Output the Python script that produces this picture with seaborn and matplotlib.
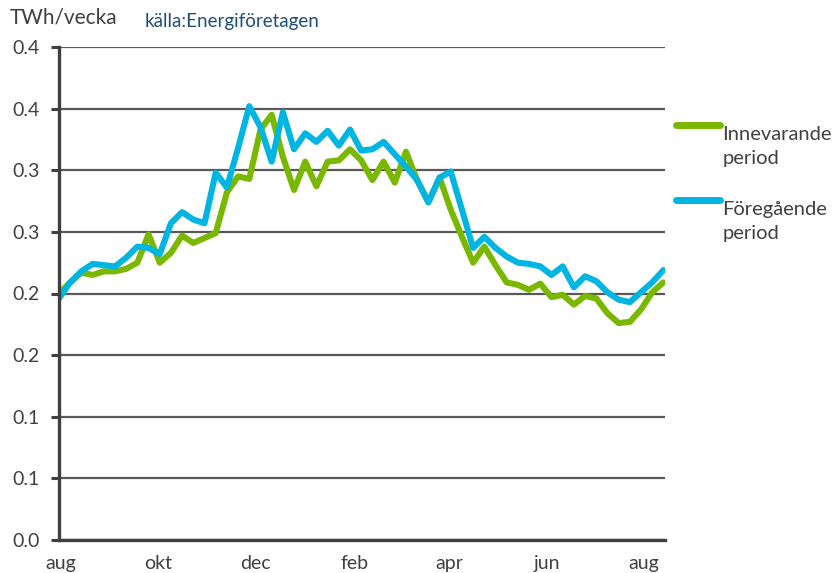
import pandas as pd
import matplotlib.pyplot as plt
import seaborn as sns
from matplotlib.legend_handler import HandlerLine2D

# weekly values (TWh/vecka)
datum = pd.date_range('2022-07-31', periods=55, freq='7D')
innevarande = [0.200, 0.209, 0.217, 0.215, 0.218, 0.218, 0.220, 0.225, 0.248, 0.225,
               0.233, 0.247, 0.241, 0.245, 0.249, 0.282, 0.295, 0.293, 0.333, 0.345,
               0.311, 0.284, 0.307, 0.287, 0.307, 0.308, 0.317, 0.308, 0.292, 0.307,
               0.290, 0.315, 0.292, 0.274, 0.294, 0.268, 0.246, 0.225, 0.238, 0.223,
               0.209, 0.207, 0.203, 0.208, 0.197, 0.199, 0.191, 0.198, 0.196, 0.184,
               0.176, 0.177, 0.187, 0.201, 0.209]
foregaende = [0.196, 0.209, 0.218, 0.224, 0.223, 0.222, 0.229, 0.238, 0.237, 0.232,
              0.257, 0.266, 0.260, 0.257, 0.298, 0.286, 0.318, 0.352, 0.335, 0.307,
              0.347, 0.317, 0.330, 0.323, 0.332, 0.320, 0.333, 0.316, 0.317, 0.323,
              0.313, 0.303, 0.292, 0.274, 0.294, 0.299, 0.268, 0.237, 0.246, 0.237,
              0.230, 0.225, 0.224, 0.222, 0.215, 0.222, 0.205, 0.214, 0.210, 0.201,
              0.195, 0.193, 0.201, 0.209, 0.219]
serier = ['Innevarande\nperiod', 'Föregående\nperiod']
farger = ['#7AB800', '#00B5E2']

month_ticks = pd.to_datetime(['2022-08-01', '2022-10-01', '2022-12-01', '2023-02-01',
                              '2023-04-01', '2023-06-01', '2023-08-01'])
month_labels = ['aug', 'okt', 'dec', 'feb', 'apr', 'jun', 'aug']
y_ticks = [0.0, 0.05, 0.10, 0.15, 0.20, 0.25, 0.30, 0.35, 0.40]
y_labels = ['0.0', '0.1', '0.1', '0.2', '0.2', '0.3', '0.3', '0.4', '0.4']

df = pd.concat([
    pd.DataFrame({'Datum': datum, 'TWh': innevarande, 'Serie': serier[0]}),
    pd.DataFrame({'Datum': datum, 'TWh': foregaende, 'Serie': serier[1]}),
])


# legend line sits next to the first text row, not the middle of the label
class TopLine(HandlerLine2D):
    def create_artists(self, legend, orig_handle, xdescent, ydescent, width, height,
                       fontsize, trans):
        return super().create_artists(legend, orig_handle, xdescent, ydescent, width,
                                      height + 31, fontsize, trans)


sns.set_theme(style='white')
plt.rcParams['font.family'] = ['Lato', 'DejaVu Sans']
txt = '#404040'

fig = plt.figure(figsize=(8.35, 5.73), dpi=100)
ax = fig.add_axes([59/835, 33/573, 606/835, 493/573])

sns.lineplot(data=df, x='Datum', y='TWh', hue='Serie', hue_order=serier,
             palette=farger, linewidth=4.4, ax=ax, legend=False)

ax.set_ylim(0, 0.40)
ax.set_xlim(pd.Timestamp('2022-07-31'), pd.Timestamp('2023-08-14'))
ax.set_yticks(y_ticks)
ax.set_yticklabels(y_labels)
ax.set_xticks(month_ticks)
ax.set_xticklabels(month_labels)
ax.set_xlabel('')
ax.set_ylabel('')

ax.yaxis.grid(True, color='#595959', linewidth=1.6)
ax.set_axisbelow(True)
for s in ['top', 'right']:
    ax.spines[s].set_visible(False)
for s in ['left', 'bottom']:
    ax.spines[s].set_color(txt)
    ax.spines[s].set_linewidth(2.4)
ax.tick_params(axis='y', left=True, length=6, width=2.2, color=txt, pad=8,
               labelsize=14, labelcolor=txt)
ax.tick_params(axis='x', bottom=False, length=0, pad=11, labelsize=14, labelcolor=txt)

handles = ax.get_lines()[:2]
leg = ax.legend(handles, serier, loc='upper left', bbox_to_anchor=(1.018, 0.839),
                frameon=False, fontsize=14.5, handlelength=2.2, handletextpad=0.1,
                labelspacing=1.65, borderpad=0, borderaxespad=0, labelcolor=txt,
                handler_map={h: TopLine() for h in handles})
for t in leg.get_texts():
    t.set_linespacing(1.5)
for h in leg.get_lines():
    h.set_linewidth(5)

fig.text(10/835, 1 - 18/573, 'TWh/vecka', fontsize=15, color=txt, va='center')
fig.text(145/835, 1 - 22/573, 'källa:Energiföretagen', fontsize=13.5,
         color='#1F4E79', va='center')

fig.savefig('out.png', dpi=100)
